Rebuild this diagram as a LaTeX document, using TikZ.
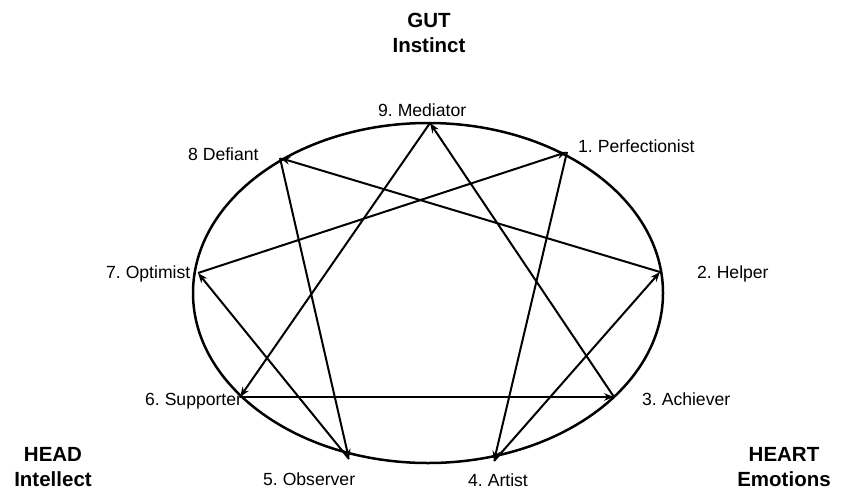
\documentclass[tikz,border=0pt]{standalone}
\usepackage{fontspec}
\setmainfont{Liberation Sans}
\usetikzlibrary{arrows.meta}
\begin{document}
\frenchspacing
\begin{tikzpicture}[x=1pt,y=-1pt,
  lbl/.style={anchor=base west,inner sep=0pt,font=\fontsize{17.6}{20}\selectfont},
  head/.style={align=center,inner sep=0pt,font=\bfseries\fontsize{20.5}{25}\selectfont},
  conn/.style={line width=2pt,-{Stealth[length=10pt,width=7.5pt]}},
  ring/.style={line width=2.5pt}]
\useasboundingbox (0,0) rectangle (848,495);
\draw[ring] (428,293) ellipse [x radius=235, y radius=170];
\coordinate (p9) at (430,123);
\coordinate (p1) at (567,152);
\coordinate (p8) at (280,158);
\coordinate (p7) at (198,273);
\coordinate (p2) at (660,272);
\coordinate (p6) at (240,397);
\coordinate (p3) at (614,397);
\coordinate (p5) at (349,459);
\coordinate (p4) at (494,461);
\draw[conn] (p7) -- (p1);
\draw[conn] (p1) -- (p4);
\draw[conn] (p4) -- (p2);
\draw[conn] (p2) -- (p8);
\draw[conn] (p8) -- (p5);
\draw[conn] (p5) -- (p7);
\draw[conn] (p9) -- (p6);
\draw[conn] (p6) -- (p3);
\draw[conn] (p3) -- (p9);
\node[lbl] (l9) at (378,116) {9. Mediator};
\node[lbl] (l1) at (578,152) {1. Perfectionist};
\node[lbl] (l8) at (188,160) {8 Defiant};
\node[lbl] (l7) at (106,278) {7. Optimist};
\node[lbl] (l2) at (697,278) {2. Helper};
\node[lbl] (l6) at (145,405) {6. Supporter};
\node[lbl] (l3) at (642,405) {3. Achiever};
\node[lbl] (l5) at (263,485) {5. Observer};
\node[lbl] (l4) at (468,486) {4. Artist};
\node[head] (gut) at (429,33) {GUT\\Instinct};
\node[head] (head) at (53,467) {HEAD\\Intellect};
\node[head] (heart) at (784,467) {HEART\\Emotions};
\end{tikzpicture}
\end{document}
